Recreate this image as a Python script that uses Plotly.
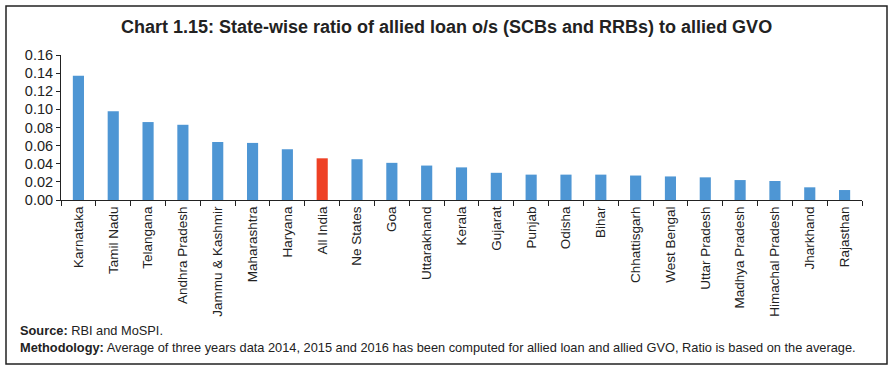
import plotly.graph_objects as go

states = ["Karnataka", "Tamil Nadu", "Telangana", "Andhra Pradesh", "Jammu & Kashmir",
          "Maharashtra", "Haryana", "All India", "Ne States", "Goa", "Uttarakhand",
          "Kerala", "Gujarat", "Punjab", "Odisha", "Bihar", "Chhattisgarh", "West Bengal",
          "Uttar Pradesh", "Madhya Pradesh", "Himachal Pradesh", "Jharkhand", "Rajasthan"]
ratio = [0.137, 0.098, 0.086, 0.083, 0.064, 0.063, 0.056, 0.046, 0.045, 0.041, 0.038,
         0.036, 0.030, 0.028, 0.028, 0.028, 0.027, 0.026, 0.025, 0.022, 0.021, 0.014, 0.011]
y_ticks = [0.00, 0.02, 0.04, 0.06, 0.08, 0.10, 0.12, 0.14, 0.16]

BLUE = "#4e96d4"
RED = "#ee4125"
colors = [RED if s == "All India" else BLUE for s in states]

W, H = 894, 373
L, R, T, B = 61, 862, 55, 200


def px(x):
    return (x - L) / (R - L)


def py(y):
    return (B - y) / (B - T)


fig = go.Figure(go.Bar(x=states, y=ratio, marker=dict(color=colors, line=dict(width=0)),
                       width=0.32))

fig.update_layout(
    width=W, height=H,
    margin=dict(l=L, r=W - R, t=T, b=H - B, pad=0),
    paper_bgcolor="white", plot_bgcolor="white",
    showlegend=False,
    font=dict(family="Liberation Sans, Arial, sans-serif", color="#222"),
)
fig.update_xaxes(
    showline=True, linecolor="#222", linewidth=1,
    ticks="outside", tickson="boundaries", ticklen=5, tickcolor="#222",
    tickangle=-90, tickfont=dict(size=13.5, color="#222"),
    showgrid=False, range=[-0.5, len(states) - 0.5], automargin=False,
)
fig.update_yaxes(
    range=[0, 0.16], tickvals=y_ticks, ticktext=[f"{v:.2f}" for v in y_ticks],
    showline=True, linecolor="#222", linewidth=1,
    ticks="outside", ticklen=4, tickcolor="#222",
    tickfont=dict(size=14.5, color="#222"), showgrid=False, zeroline=False, automargin=False,
)

# outer frame
fig.add_shape(type="rect", xref="paper", yref="paper",
              x0=px(6), x1=px(887), y0=py(364), y1=py(6),
              line=dict(color="#222", width=1.5), fillcolor="rgba(0,0,0,0)", layer="below")

fig.add_annotation(xref="paper", yref="paper", x=px(446), y=py(27), xanchor="center",
                   yanchor="middle", showarrow=False,
                   text="<b>Chart 1.15: State-wise ratio of allied loan o/s (SCBs and RRBs) to allied GVO</b>",
                   font=dict(size=18, color="#222", family="Liberation Sans, Arial, sans-serif"))
fig.add_annotation(xref="paper", yref="paper", x=px(18), y=py(330), xanchor="left",
                   yanchor="middle", showarrow=False,
                   text="<b>Source:</b> RBI and MoSPI.",
                   font=dict(size=12.8, color="#222", family="Liberation Sans Narrow, Arial Narrow, sans-serif"))
fig.add_annotation(xref="paper", yref="paper", x=px(18), y=py(347), xanchor="left",
                   yanchor="middle", showarrow=False,
                   text="<b>Methodology:</b> Average of three years data 2014, 2015 and 2016 has been computed for allied loan and allied GVO, Ratio is based on the average.",
                   font=dict(size=12.8, color="#222", family="Liberation Sans Narrow, Arial Narrow, sans-serif"))

fig.write_html("out.html", config={"displayModeBar": False},
               post_script="document.body.style.margin='0';document.body.style.overflow='hidden';")
